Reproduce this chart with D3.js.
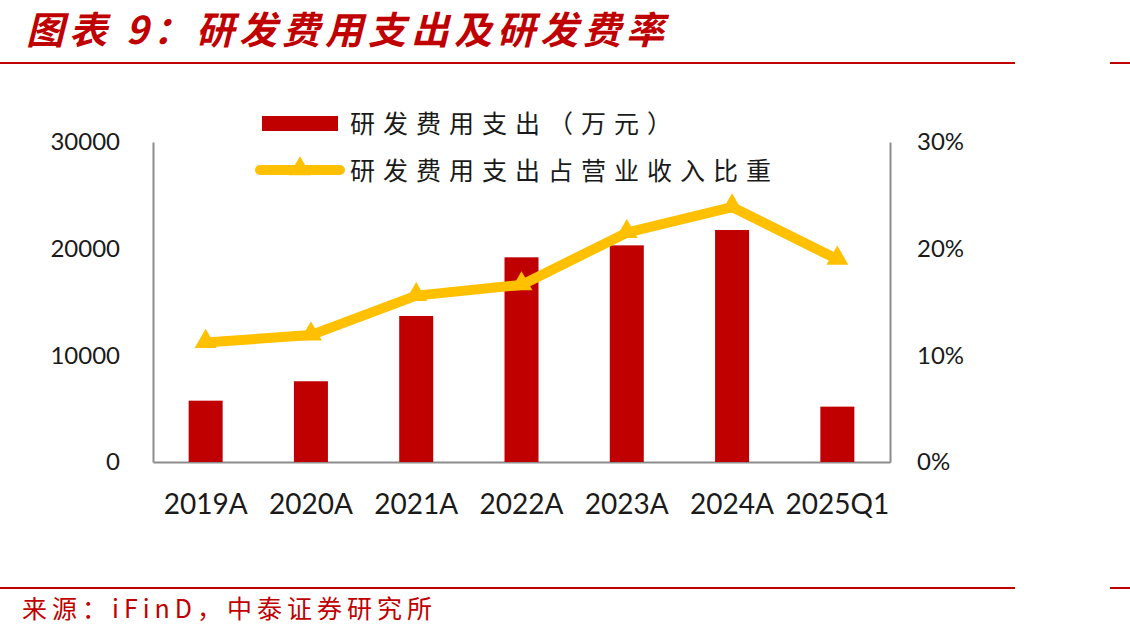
<!DOCTYPE html>
<html>
<head>
<meta charset="utf-8">
<script src="https://cdn.jsdelivr.net/npm/d3@7"></script>
<style>
  body { margin: 0; background: #fff; }
  svg { display: block; }
</style>
</head>
<body>
<div id="chart"></div>
<script>
// data
const categories = ["2019A", "2020A", "2021A", "2022A", "2023A", "2024A", "2025Q1"];
const rdSpend = [5750, 7570, 13690, 19190, 20310, 21750, 5190]; // 万元
const rdRatio = [11.2, 11.9, 15.6, 16.6, 21.5, 23.9, 19.0]; // %
const leftTicks = [0, 10000, 20000, 30000];
const rightTicks = [0, 10, 20, 30];

const W = 1130, H = 640;
const red = "#c00000";
const gold = "#ffc000";
const axisGray = "#8c8c8c";
const plot = { left: 153, right: 890, top: 142, bottom: 462 };
const barWidth = 34;

const svg = d3.select("#chart").append("svg")
  .attr("width", W).attr("height", H);

// title + rules
svg.append("text")
  .attr("x", 26).attr("y", 44)
  .attr("fill", red)
  .attr("font-family", "Noto Sans CJK SC")
  .attr("font-size", 38)
  .attr("font-weight", "bold")
  .attr("font-style", "italic")
  .attr("letter-spacing", 5)
  .text("图表 9：研发费用支出及研发费率");

[63, 588].forEach(y => {
  svg.append("line").attr("x1", 0).attr("x2", 1015).attr("y1", y).attr("y2", y)
    .attr("stroke", red).attr("stroke-width", 2);
  svg.append("line").attr("x1", 1110).attr("x2", W).attr("y1", y).attr("y2", y)
    .attr("stroke", red).attr("stroke-width", 2);
});

svg.append("text")
  .attr("x", 22).attr("y", 618)
  .attr("fill", red)
  .attr("font-family", "Noto Sans CJK SC")
  .attr("font-size", 25)
  .attr("letter-spacing", 5)
  .text("来源：iFinD，中泰证券研究所");

// scales
const x = d3.scaleBand().domain(categories).range([plot.left, plot.right]);
const yL = d3.scaleLinear().domain([0, 30000]).range([plot.bottom, plot.top]);
const yR = d3.scaleLinear().domain([0, 30]).range([plot.bottom, plot.top]);
const cx = c => x(c) + x.bandwidth() / 2;

// axes
const gLeft = svg.append("g").attr("transform", `translate(${plot.left},0)`)
  .call(d3.axisLeft(yL).tickValues(leftTicks).tickSize(0).tickPadding(33).tickFormat(d3.format("d")));
const gRight = svg.append("g").attr("transform", `translate(${plot.right},0)`)
  .call(d3.axisRight(yR).tickValues(rightTicks).tickSize(0).tickPadding(27).tickFormat(d => d + "%"));
const gBottom = svg.append("g").attr("transform", `translate(0,${plot.bottom})`)
  .call(d3.axisBottom(x).tickSize(0).tickPadding(32));

[gLeft, gRight, gBottom].forEach(g => {
  g.select(".domain").attr("stroke", axisGray).attr("stroke-width", 2);
  g.selectAll("text")
    .attr("fill", "#1a1a1a")
    .attr("font-family", "Lato")
    .attr("font-size", 24);
});
gBottom.selectAll("text").attr("font-size", 28);

// bars
svg.append("g").selectAll("rect")
  .data(categories)
  .join("rect")
  .attr("x", c => cx(c) - barWidth / 2)
  .attr("width", barWidth)
  .attr("y", (c, i) => yL(rdSpend[i]))
  .attr("height", (c, i) => yL(0) - yL(rdSpend[i]))
  .attr("fill", red);

// ratio line
const line = d3.line()
  .x((d, i) => cx(categories[i]))
  .y(d => yR(d));

svg.append("path")
  .datum(rdRatio)
  .attr("d", line)
  .attr("fill", "none")
  .attr("stroke", gold)
  .attr("stroke-width", 10)
  .attr("stroke-linejoin", "round");

const tri = d3.symbol().type(d3.symbolTriangle).size(210);
svg.append("g").selectAll("path")
  .data(rdRatio)
  .join("path")
  .attr("transform", (d, i) => `translate(${cx(categories[i])},${yR(d) - 1})`)
  .attr("d", tri)
  .attr("fill", gold);

// legend
const legend = svg.append("g").attr("font-family", "Noto Sans CJK SC").attr("font-size", 25)
  .attr("fill", "#1a1a1a").attr("letter-spacing", 8);
legend.append("rect").attr("x", 262).attr("y", 116).attr("width", 76).attr("height", 15).attr("fill", red);
legend.append("text").attr("x", 350).attr("y", 133).text("研发费用支出（万元）");
legend.append("line").attr("x1", 260).attr("x2", 340).attr("y1", 170).attr("y2", 170)
  .attr("stroke", gold).attr("stroke-width", 10).attr("stroke-linecap", "round");
legend.append("path").attr("transform", "translate(300,169)").attr("d", tri).attr("fill", gold);
legend.append("text").attr("x", 350).attr("y", 180).text("研发费用支出占营业收入比重");
</script>
</body>
</html>
